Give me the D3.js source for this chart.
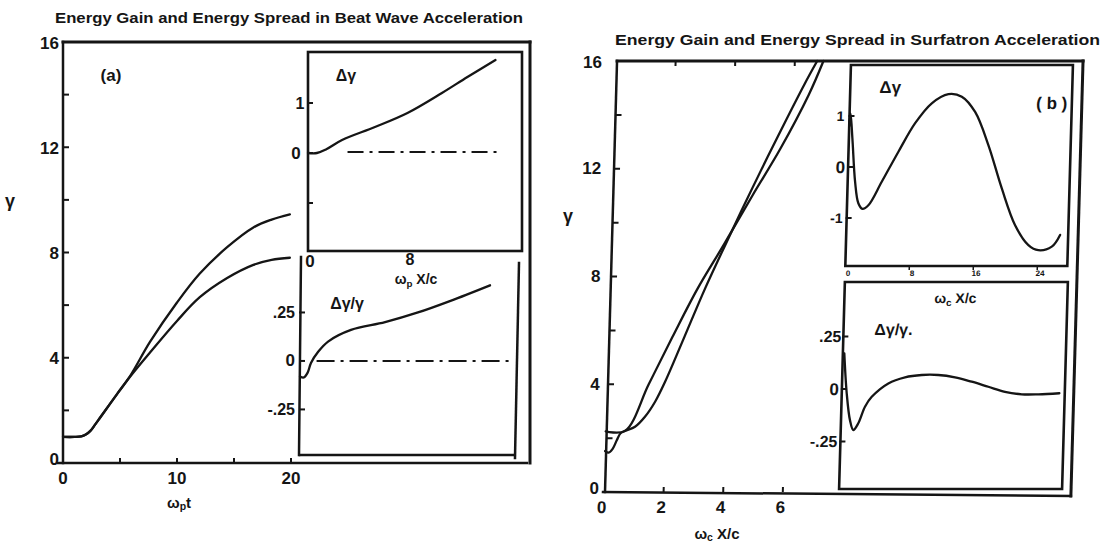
<!DOCTYPE html>
<html>
<head>
<meta charset="utf-8">
<script src="https://cdn.jsdelivr.net/npm/d3@7"></script>
<style>
  body { margin: 0; background: #fff; }
  text { font-family: "Liberation Sans", Arial, sans-serif; font-weight: bold; fill: #151515; }
</style>
</head>
<body>
<svg id="chart" width="1107" height="546"></svg>
<script>
// ---------- Panel (a): beat wave acceleration ----------
const beatTime        = [0, 1.0, 1.6, 2.0, 2.4, 2.8, 3.25, 4.74, 5.88, 7.63, 10.0, 12.0, 14.4, 16.7, 18.3, 19.9];
const beatGammaUpper  = [0.99, 0.99, 1.01, 1.08, 1.22, 1.45, 1.72, 2.62, 3.3, 4.6, 6.1, 7.2, 8.2, 8.95, 9.25, 9.45];
const beatGammaLower  = [0.99, 0.99, 1.01, 1.08, 1.22, 1.45, 1.72, 2.62, 3.28, 4.2, 5.4, 6.3, 7.03, 7.53, 7.72, 7.8];
const beatSpreadX     = [0, 0.7, 1.4, 2.67, 5.25, 7.8, 10.5, 12.5, 14.7];
const beatSpread      = [0, 0.0, 0.07, 0.26, 0.52, 0.8, 1.2, 1.52, 1.86];
const beatRelX        = [0, 0.3, 0.6, 0.86, 1.41, 2.2, 4.0, 6.67, 9.25, 11.8, 14.9];
const beatRelSpread   = [-0.08, -0.085, -0.06, -0.01, 0.046, 0.1, 0.16, 0.2, 0.25, 0.31, 0.39];
const beatGammaTicks  = [0, 2, 4, 6, 8, 10, 12, 14, 16];
const beatGammaLabels = [0, 4, 8, 12, 16];
const beatTimeTicks   = [5, 10, 15, 20];
const beatTimeLabels  = [0, 10, 20];

// ---------- Panel (b): surfatron acceleration ----------
const surfXA          = [0, 0.65, 1.4, 2.15, 2.95, 3.8, 4.7, 5.6, 6.5, 6.96];
const surfGammaA      = [2.25, 2.27, 4.0, 5.75, 7.55, 9.2, 11.0, 12.75, 14.75, 16];
const surfXB          = [0, 0.12, 0.25, 0.38, 0.5, 0.65, 0.98, 1.31, 1.63, 1.95, 2.55, 3.2, 3.85, 4.7, 5.5, 6.35, 6.75];
const surfGammaB      = [1.52, 1.46, 1.6, 1.92, 2.18, 2.27, 2.42, 2.8, 3.35, 4.1, 5.75, 7.55, 9.2, 11.3, 13.2, 15.15, 16];
const surfSpreadX     = [0, 0.12, 0.44, 0.93, 1.41, 1.94, 2.67, 4.26, 6.24, 8.23, 10.24, 12.29, 13.97, 15.69, 17.46, 19.29, 21.08, 22.81, 24.07, 25.74, 26.74];
const surfSpread      = [0.8, 1.05, 0.56, -0.29, -0.71, -0.82, -0.75, -0.29, 0.3, 0.86, 1.25, 1.43, 1.38, 1.08, 0.43, -0.42, -1.14, -1.53, -1.63, -1.56, -1.33];
const surfRelX        = [0.18, 0.62, 1.12, 1.57, 2.17, 2.95, 3.76, 5.79, 7.85, 9.94, 12.0, 14.1, 16.2, 18.3, 20.4, 22.5, 24.6, 27.2];
const surfRelSpread   = [0.17, -0.02, -0.148, -0.195, -0.163, -0.084, -0.037, 0.027, 0.056, 0.067, 0.067, 0.056, 0.035, 0.011, -0.013, -0.025, -0.025, -0.02];
const surfGammaTicks  = [0, 2, 4, 6, 8, 10, 12, 14, 16];
const surfGammaLabels = [0, 4, 8, 12, 16];
const surfXTicks      = [2, 4, 6];
const surfXLabels     = [0, 2, 4, 6];
const surfInsetXTicks = [0, 8, 16, 24];

const svg = d3.select("#chart");
const INK = "#151515";

function curve(g, xs, ys, sx, sy, w = 2.3) {
  g.append("path")
    .datum(d3.zip(xs, ys))
    .attr("fill", "none").attr("stroke", INK).attr("stroke-width", w)
    .attr("stroke-linecap", "round").attr("stroke-linejoin", "round")
    .attr("d", d3.line().x(d => sx(d[0])).y(d => sy(d[1])).curve(d3.curveCatmullRom.alpha(0.5)));
}
function seg(g, x1, y1, x2, y2, w = 2.5) {
  g.append("line").attr("x1", x1).attr("y1", y1).attr("x2", x2).attr("y2", y2)
    .attr("stroke", INK).attr("stroke-width", w).attr("stroke-linecap", "square");
}
function label(g, x, y, txt, size = 16, anchor = "middle") {
  return g.append("text").attr("x", x).attr("y", y).attr("text-anchor", anchor)
    .attr("dominant-baseline", "central").attr("font-size", size).text(txt);
}
function omegaLabel(g, x, y, sub, rest, size = 15) {
  const t = g.append("text").attr("x", x).attr("y", y).attr("text-anchor", "middle")
    .attr("dominant-baseline", "central").attr("font-size", size);
  t.append("tspan").text("ω");
  t.append("tspan").attr("font-size", size * 0.7).attr("dy", 4).text(sub);
  t.append("tspan").attr("dy", -4).text(rest);
  return t;
}
function title(x0, x1, y, txt) {
  svg.append("text").attr("x", x0).attr("y", y).attr("font-size", 15)
    .attr("textLength", x1 - x0).attr("lengthAdjust", "spacingAndGlyphs").text(txt);
}

// ================= Panel (a) =================
const ga = svg.append("g");
const ax = d3.scaleLinear().domain([0, 20]).range([63, 291]);
const ay = d3.scaleLinear().domain([0, 16]).range([463, 42]);

title(55, 523, 23, "Energy Gain and Energy Spread in Beat Wave Acceleration");

// frame
seg(ga, ax(0), ay(16), 530, ay(16), 3);
seg(ga, ax(0), ay(16), ax(0), ay(0), 2.5);
seg(ga, 530, ay(16), 530, ay(0), 3);
seg(ga, 58, ay(0), 527, ay(0), 2.5);
ga.selectAll(".ytk").data(beatGammaTicks.slice(1, -1)).join("line")
  .attr("x1", ax(0)).attr("x2", ax(0) + 6).attr("y1", d => ay(d)).attr("y2", d => ay(d))
  .attr("stroke", INK).attr("stroke-width", 2);
ga.selectAll(".xtk").data(beatTimeTicks).join("line")
  .attr("x1", d => ax(d)).attr("x2", d => ax(d)).attr("y1", ay(0)).attr("y2", ay(0) - 5)
  .attr("stroke", INK).attr("stroke-width", 2);
beatGammaLabels.forEach(v => label(ga, 59, ay(v) + (v === 0 ? -4 : 1), String(v), 17, "end"));
beatTimeLabels.forEach(v => label(ga, ax(v), 478, String(v), 17));
label(ga, 10, 201, "γ", 18);
omegaLabel(ga, ax(10) + 2, 502, "p", "t");
label(ga, 111, 75, "(a)", 17);

curve(ga, beatTime, beatGammaUpper, ax, ay);
curve(ga, beatTime, beatGammaLower, ax, ay);

// upper inset: energy spread
const a1x = d3.scaleLinear().domain([0, 16.78]).range([308, 522]);
const a1y = d3.scaleLinear().domain([-1.96, 2.02]).range([251, 52]);
ga.append("rect").attr("x", a1x(0)).attr("y", a1y(2.02))
  .attr("width", a1x(16.78) - a1x(0)).attr("height", a1y(-1.96) - a1y(2.02))
  .attr("fill", "#fff").attr("stroke", INK).attr("stroke-width", 2.6);
[1, 0, -1].forEach(v => seg(ga, a1x(0), a1y(v), a1x(0) + 4, a1y(v), 2));
label(ga, a1x(0) - 8, a1y(1), "1", 16);
label(ga, a1x(0) - 12, a1y(0), "0", 17);
label(ga, 346, 75, "Δγ", 16);
label(ga, a1x(0) + 2, 261, "0", 17);
label(ga, a1x(8), 259, "8", 16);
omegaLabel(ga, 416, 279, "p", " X/c", 14);
curve(ga, beatSpreadX, beatSpread, a1x, a1y);
ga.append("path").datum([[3.1, 0.02], [15.1, 0.02]])
  .attr("fill", "none").attr("stroke", INK).attr("stroke-width", 2)
  .attr("stroke-dasharray", "16,6,3,6")
  .attr("d", d3.line().x(d => a1x(d[0])).y(d => a1y(d[1])));

// lower inset: relative energy spread
const a2x = d3.scaleLinear().domain([0, 16.78]).range([300, 514]);
const a2y = d3.scaleLinear().domain([-0.485, 0.536]).range([455, 257]);
seg(ga, a2x(0) + 1, a2y(0.536), a2x(0) - 1, a2y(-0.485), 2.5);
seg(ga, a2x(0), a2y(-0.485), 514, a2y(-0.485), 2.5);
seg(ga, 519, 263, 515, 458, 2.5);
[0.25, 0, -0.25].forEach(v => seg(ga, a2x(0), a2y(v), a2x(0) + 4, a2y(v), 2));
label(ga, a2x(0) - 5, a2y(0.25), ".25", 16, "end");
label(ga, a2x(0) - 5, a2y(0), "0", 17, "end");
label(ga, a2x(0) - 5, a2y(-0.25), "-.25", 16, "end");
label(ga, 347, 303, "Δγ/γ", 16);
curve(ga, beatRelX, beatRelSpread, a2x, a2y);
ga.append("path").datum([[1.3, 0], [16.7, 0]])
  .attr("fill", "none").attr("stroke", INK).attr("stroke-width", 2)
  .attr("stroke-dasharray", "18,6,3,6")
  .attr("d", d3.line().x(d => a2x(d[0])).y(d => a2y(d[1])));

// ================= Panel (b) =================
title(615, 1100, 45, "Energy Gain and Energy Spread in Surfatron Acceleration");
label(svg, 568, 216, "γ", 18);
omegaLabel(svg, 717, 533, "c", " X/c");

// the whole plate leans slightly, as drawn
const gb = svg.append("g").attr("transform", "translate(0,492) skewX(-1.6) translate(0,-492)");
const bx = d3.scaleLinear().domain([0, 6]).range([604, 782.8]);
const by = d3.scaleLinear().domain([0, 16]).range([492, 61]);

seg(gb, 605, by(16), 1071, by(16), 3);
seg(gb, 605, by(16), 605, by(0), 2.5);
seg(gb, 1071, by(16), 1071, 496, 3);
seg(gb, 603, by(0), 1071, 496, 2.5);
gb.selectAll(".ytk").data(surfGammaTicks.slice(1, -1)).join("line")
  .attr("x1", 605).attr("x2", 611).attr("y1", d => by(d)).attr("y2", d => by(d))
  .attr("stroke", INK).attr("stroke-width", 2);
gb.selectAll(".xtk").data(surfXTicks).join("line")
  .attr("x1", d => bx(d)).attr("x2", d => bx(d)).attr("y1", by(0)).attr("y2", by(0) - 5)
  .attr("stroke", INK).attr("stroke-width", 2);
gb.selectAll(".xtt").data(surfXTicks).join("line")
  .attr("x1", d => bx(d)).attr("x2", d => bx(d)).attr("y1", by(16)).attr("y2", by(16) + 5)
  .attr("stroke", INK).attr("stroke-width", 2);
// tick labels sit upright beside the leaning axis
surfGammaLabels.forEach(v => label(svg, 599 + 3 * v / 16, by(v) + (v === 0 ? -4 : v === 16 ? 1 : 0), String(v), 17, "end"));
surfXLabels.forEach(v => label(gb, bx(v) - 2, 508, String(v), 17));

curve(gb, surfXA, surfGammaA, bx, by);
curve(gb, surfXB, surfGammaB, bx, by);

// upper inset: energy spread
const b1x = d3.scaleLinear().domain([0, 27.75]).range([839, 1061]);
const b1y = d3.scaleLinear().domain([-1.94, 2.0]).range([266, 65]);
gb.append("rect").attr("x", b1x(0)).attr("y", b1y(2.0))
  .attr("width", b1x(27.75) - b1x(0)).attr("height", b1y(-1.94) - b1y(2.0))
  .attr("fill", "#fff").attr("stroke", INK).attr("stroke-width", 2.6);
[1, 0, -1].forEach(v => seg(gb, b1x(0), b1y(v), b1x(0) + 4, b1y(v), 2));
label(gb, b1x(0) - 5, b1y(1), "1", 14, "end");
label(gb, b1x(0) - 3, b1y(0), "0", 17, "end");
label(gb, b1x(0) - 4, b1y(-1), "-1", 14, "end");
label(gb, 879, 88, "Δγ", 17);
label(gb, 1041, 104, "( b )", 17);
curve(gb, surfSpreadX, surfSpread, b1x, b1y);
gb.selectAll(".itk").data(surfInsetXTicks.slice(1)).join("line")
  .attr("x1", d => b1x(d)).attr("x2", d => b1x(d)).attr("y1", 266).attr("y2", 270)
  .attr("stroke", INK).attr("stroke-width", 1.5);
surfInsetXTicks.forEach(v => label(gb, b1x(v) + 3, 274, String(v), 8));

// lower inset: relative energy spread
const b2x = d3.scaleLinear().domain([0, 27.75]).range([839, 1061]);
const b2y = d3.scaleLinear().domain([-0.476, 0.51]).range([489, 282]);
gb.append("rect").attr("x", b2x(0)).attr("y", b2y(0.51))
  .attr("width", 1062 - b2x(0)).attr("height", b2y(-0.476) - b2y(0.51))
  .attr("fill", "none").attr("stroke", INK).attr("stroke-width", 2.6);
[0.25, 0, -0.25].forEach(v => seg(gb, b2x(0), b2y(v), b2x(0) + 4, b2y(v), 2));
label(gb, b2x(0) - 2, b2y(0.25), ".25", 16, "end");
label(gb, b2x(0) - 3, b2y(0), "0", 17, "end");
label(gb, b2x(0) - 3, b2y(-0.25), "-.25", 16, "end");
label(gb, 889, 330, "Δγ/γ.", 16);
omegaLabel(gb, 950, 298, "c", " X/c", 14);
curve(gb, surfRelX, surfRelSpread, b2x, b2y);
</script>
</body>
</html>
